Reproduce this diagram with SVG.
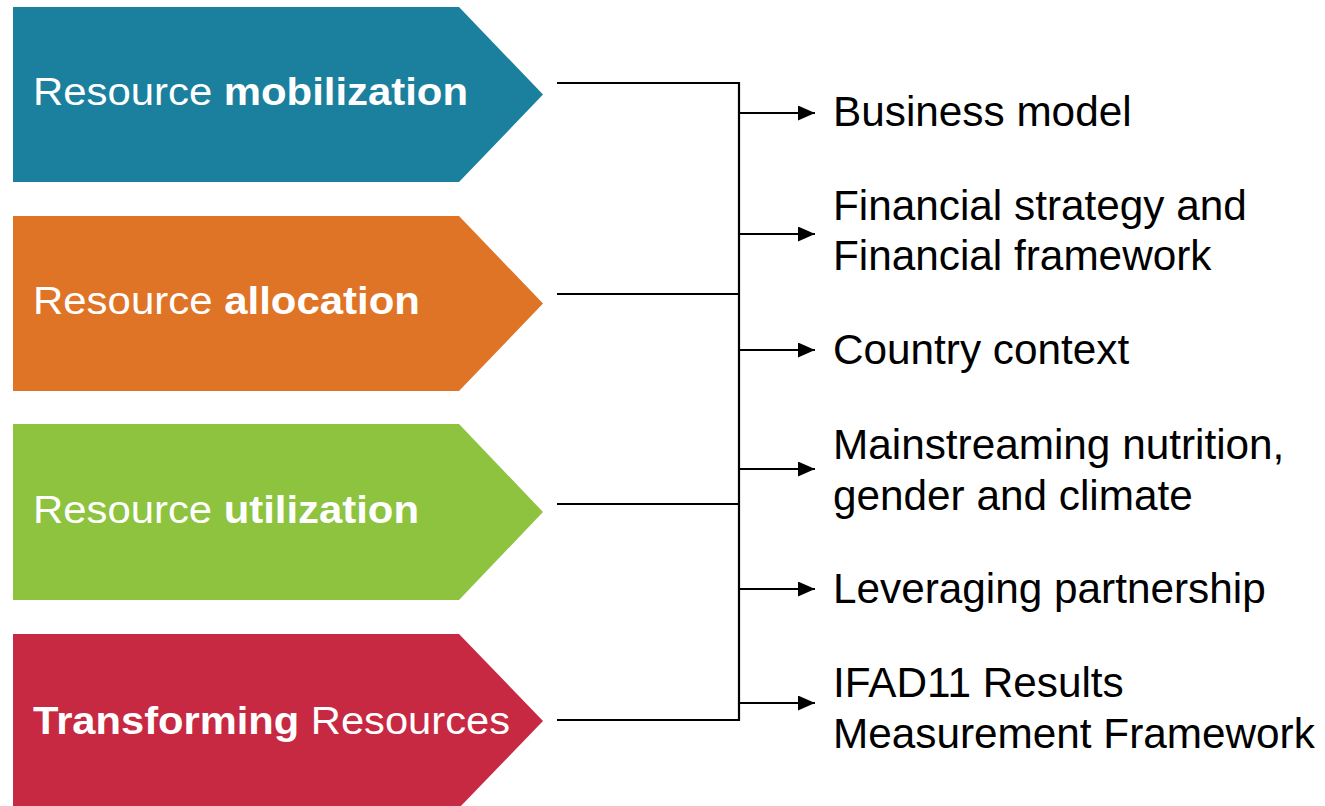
<svg xmlns="http://www.w3.org/2000/svg" width="1325" height="806" viewBox="0 0 1325 806">
<style>
.lbl{font-family:"Liberation Sans",Arial,sans-serif;font-size:38px;fill:#ffffff}
.b{font-weight:bold}
.out{font-family:"Liberation Sans",Arial,sans-serif;font-size:42.3px;fill:#000000}
.conn{stroke:#000000;stroke-width:2.2;fill:none}
</style>
<defs>
<marker id="ah" viewBox="0 0 17 15" refX="17" refY="7.5" markerWidth="17" markerHeight="15" markerUnits="userSpaceOnUse" orient="auto">
<path d="M0,0 L17,7.5 L0,15 Z" fill="#000000"/>
</marker>
</defs>
<rect width="1325" height="806" fill="#ffffff"/>
<g id="node-mobilization">
<polygon points="13,7 459,7 543,94.5 459,182 13,182" fill="#1b809d"/>
<text class="lbl" x="33" y="105" textLength="435" lengthAdjust="spacingAndGlyphs">Resource <tspan class="b">mobilization</tspan></text>
</g>
<g id="node-allocation">
<polygon points="13,216 459,216 543,303.5 459,391 13,391" fill="#df7427"/>
<text class="lbl" x="33" y="314" textLength="387" lengthAdjust="spacingAndGlyphs">Resource <tspan class="b">allocation</tspan></text>
</g>
<g id="node-utilization">
<polygon points="13,424 459,424 543,512 459,600 13,600" fill="#8dc33f"/>
<text class="lbl" x="33" y="523" textLength="386" lengthAdjust="spacingAndGlyphs">Resource <tspan class="b">utilization</tspan></text>
</g>
<g id="node-transforming">
<polygon points="13,634 459,634 543,721 459,808 13,808" fill="#c72842"/>
<text class="lbl" x="33" y="734" textLength="477" lengthAdjust="spacingAndGlyphs"><tspan class="b">Transforming</tspan> Resources</text>
</g>
<g id="connectors">
<line class="conn" x1="557" y1="83" x2="739" y2="83"/>
<line class="conn" x1="557" y1="294" x2="739" y2="294"/>
<line class="conn" x1="557" y1="504" x2="739" y2="504"/>
<line class="conn" x1="557" y1="720" x2="739" y2="720"/>
<line class="conn" x1="739" y1="82" x2="739" y2="721"/>
<line class="conn" x1="739" y1="113" x2="815" y2="113" marker-end="url(#ah)"/>
<line class="conn" x1="739" y1="234" x2="815" y2="234" marker-end="url(#ah)"/>
<line class="conn" x1="739" y1="350" x2="815" y2="350" marker-end="url(#ah)"/>
<line class="conn" x1="739" y1="469" x2="815" y2="469" marker-end="url(#ah)"/>
<line class="conn" x1="739" y1="589" x2="815" y2="589" marker-end="url(#ah)"/>
<line class="conn" x1="739" y1="703" x2="815" y2="703" marker-end="url(#ah)"/>
</g>
<g id="node-business">
<text class="out" x="833" y="126">Business model</text>
</g>
<g id="node-financial">
<text class="out" x="833" y="220">Financial strategy and</text>
<text class="out" x="833" y="270">Financial framework</text>
</g>
<g id="node-country">
<text class="out" x="833" y="364">Country context</text>
</g>
<g id="node-mainstreaming">
<text class="out" x="833" y="459">Mainstreaming nutrition,</text>
<text class="out" x="833" y="510">gender and climate</text>
</g>
<g id="node-leveraging">
<text class="out" x="833" y="603">Leveraging partnership</text>
</g>
<g id="node-ifad">
<text class="out" x="833" y="697">IFAD11 Results</text>
<text class="out" x="833" y="748">Measurement Framework</text>
</g>
</svg>
